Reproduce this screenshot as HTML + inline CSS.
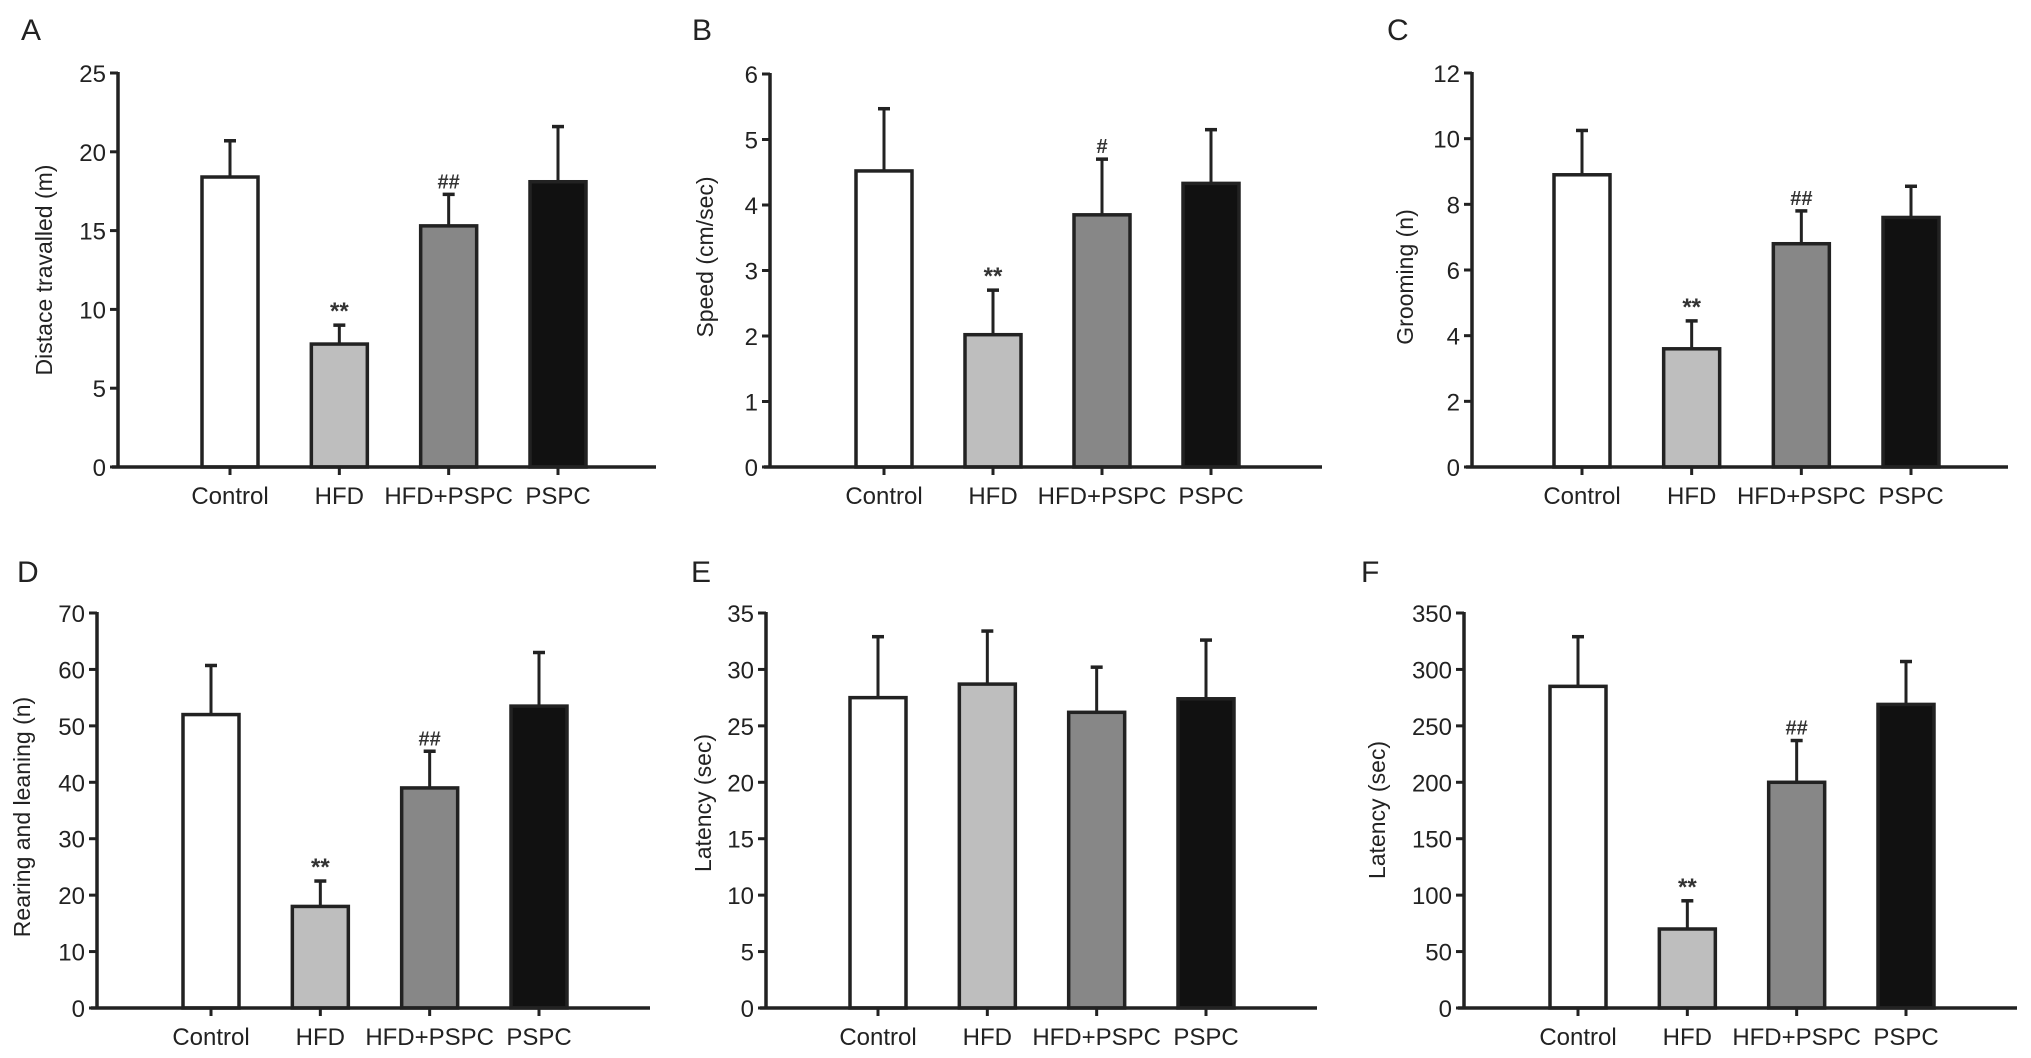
<!DOCTYPE html>
<html><head><meta charset="utf-8"><style>
html,body{margin:0;padding:0;background:#fff;}
svg{display:block;font-family:"Liberation Sans",Arial,sans-serif;}
</style></head><body>
<svg id="fig" width="2031" height="1058" viewBox="0 0 2031 1058" xmlns="http://www.w3.org/2000/svg"></svg>
<script>
const categories = ["Control","HFD","HFD+PSPC","PSPC"];
const fills = ["#ffffff","#bebebe","#878787","#111111"];
const valuesA = [18.4, 7.8, 15.3, 18.1];
const errorsA = [2.3, 1.2, 2.0, 3.5];
const ticksA = [0,5,10,15,20,25];
const marksA = ["","**","##",""];
const valuesB = [4.52, 2.02, 3.85, 4.33];
const errorsB = [0.95, 0.68, 0.85, 0.82];
const ticksB = [0,1,2,3,4,5,6];
const marksB = ["","**","#",""];
const valuesC = [8.9, 3.6, 6.8, 7.6];
const errorsC = [1.35, 0.85, 1.0, 0.95];
const ticksC = [0,2,4,6,8,10,12];
const marksC = ["","**","##",""];
const valuesD = [52, 18, 39, 53.5];
const errorsD = [8.7, 4.5, 6.5, 9.5];
const ticksD = [0,10,20,30,40,50,60,70];
const marksD = ["","**","##",""];
const valuesE = [27.5, 28.7, 26.2, 27.4];
const errorsE = [5.4, 4.7, 4.0, 5.2];
const ticksE = [0,5,10,15,20,25,30,35];
const marksE = ["","","",""];
const valuesF = [285, 70, 200, 269];
const errorsF = [44, 25, 37, 38];
const ticksF = [0,50,100,150,200,250,300,350];
const marksF = ["","**","##",""];

const NS="http://www.w3.org/2000/svg";
const svg=document.getElementById('fig');
function mk(tag,attrs,parent,text){const e=document.createElementNS(NS,tag);for(const k in attrs)e.setAttribute(k,attrs[k]);if(text!==undefined)e.textContent=text;parent.appendChild(e);return e;}

function panel(p){
  const g=mk('g',{},svg);
  
  
  const max=p.ticks[p.ticks.length-1];
  const y=v=>p.y0-(v/max)*(p.y0-p.yTop);
  const step=(p.x3-p.x0)/3;
  const xc=i=>p.x0+i*step;
  const bw=56;
  const lt=mk('text',{x:p.lx,y:p.ly,'font-size':30,fill:'#222'},g,p.id);
  
  
  p.values.forEach((v,i)=>{
    const top=y(v), te=y(v+p.errors[i]);
    const el=mk('line',{x1:xc(i),x2:xc(i),y1:top,y2:te,stroke:'#222','stroke-width':3},g);
    
    
    const cap=mk('line',{x1:xc(i)-6,x2:xc(i)+6,y1:te,y2:te,stroke:'#222','stroke-width':3.5},g);
    
    
    const r=mk('rect',{x:xc(i)-bw/2,y:top,width:bw,height:p.y0-top,fill:fills[i],stroke:'#222','stroke-width':3.5},g);
    
    
    if(p.marks[i]){
      const m=mk('text',{x:xc(i),y:te-6,'font-size':p.marks[i]=='**'?24:20,'font-weight':'bold','text-anchor':'middle',fill:'#333'},g,p.marks[i]);
      
      
    }
    const xl=mk('text',{x:xc(i),y:p.y0+37,'font-size':24,'text-anchor':'middle',fill:'#222'},g,categories[i]);
    
    
    const xt=mk('line',{x1:xc(i),x2:xc(i),y1:p.y0,y2:p.y0+8,stroke:'#222','stroke-width':3},g);
    
    
  });
  const ya=mk('line',{x1:p.ax,x2:p.ax,y1:p.yTop-1,y2:p.y0+1.5,stroke:'#222','stroke-width':3.5},g);
  
  
  const xa=mk('line',{x1:p.ax-6,x2:p.xEnd,y1:p.y0,y2:p.y0,stroke:'#222','stroke-width':3.5},g);
  
  
  p.ticks.forEach(t=>{
    const tk=mk('line',{x1:p.ax-8,x2:p.ax,y1:y(t),y2:y(t),stroke:'#222','stroke-width':3},g);
    
    
    const tl=mk('text',{x:p.ax-12,y:y(t)+9,'font-size':24,'text-anchor':'end',fill:'#222'},g,String(t));
    
    
  });
  const yt=mk('text',{x:0,y:0,'font-size':23,'text-anchor':'middle',fill:'#222',transform:`translate(${p.tx},${p.ty}) rotate(-90)`},g,p.title);
  
  
}

panel({id:'A',values:valuesA,errors:errorsA,ticks:ticksA,marks:marksA,title:'Distace travalled (m)',ax:118,yTop:73,y0:467,x0:230,x3:558,xEnd:656,lx:21,ly:40,tx:52,ty:270});
panel({id:'B',values:valuesB,errors:errorsB,ticks:ticksB,marks:marksB,title:'Speed (cm/sec)',ax:770,yTop:74,y0:467,x0:884,x3:1211,xEnd:1322,lx:692,ly:40,tx:713,ty:257});
panel({id:'C',values:valuesC,errors:errorsC,ticks:ticksC,marks:marksC,title:'Grooming (n)',ax:1472,yTop:73,y0:467,x0:1582,x3:1911,xEnd:2008,lx:1387,ly:40,tx:1413,ty:277});
panel({id:'D',values:valuesD,errors:errorsD,ticks:ticksD,marks:marksD,title:'Rearing and leaning (n)',ax:97,yTop:613,y0:1008,x0:211,x3:539,xEnd:650,lx:17,ly:582,tx:30,ty:817});
panel({id:'E',values:valuesE,errors:errorsE,ticks:ticksE,marks:marksE,title:'Latency (sec)',ax:766,yTop:613,y0:1008,x0:878,x3:1206,xEnd:1317,lx:691,ly:582,tx:711,ty:803});
panel({id:'F',values:valuesF,errors:errorsF,ticks:ticksF,marks:marksF,title:'Latency (sec)',ax:1464,yTop:613,y0:1008,x0:1578,x3:1906,xEnd:2017,lx:1361,ly:582,tx:1385,ty:810});
</script>
</body></html>
